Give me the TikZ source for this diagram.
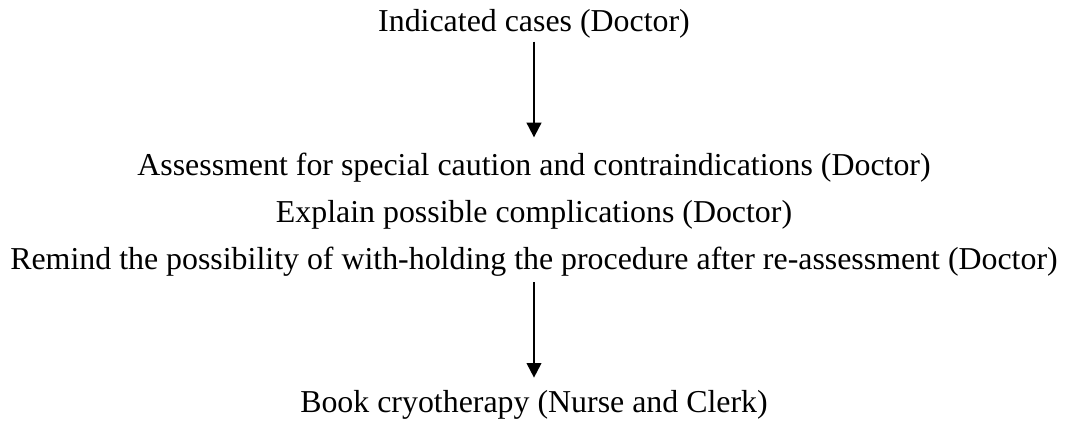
\documentclass[tikz,border=0pt]{standalone}
\usepackage{fontspec}
\setmainfont{Liberation Serif}
\usetikzlibrary{arrows.meta, positioning}

\tikzset{
  steptext/.style={anchor=base, inner sep=0pt},
  flowarrow/.style={-{Triangle[width=11pt,length=11pt]}, line width=1.5pt}
}

\begin{document}
\begin{tikzpicture}[x=0.02646cm, y=-0.02646cm, font=\fontsize{24}{28}\selectfont, align=center]
\useasboundingbox (0,0) rectangle (1067,423);
\node (cases) [steptext] at (534,32) {Indicated cases (Doctor)};
\node (assess) [steptext] at (534,176) {Assessment for special caution and contraindications (Doctor)};
\node (explain) [steptext] at (534,223) {Explain possible complications (Doctor)};
\node (remind) [steptext] at (534,270) {Remind the possibility of with-holding the procedure after re-assessment (Doctor)};
\node (book) [steptext] at (534,412) {Book cryotherapy (Nurse and Clerk)};

\draw[flowarrow, shorten <=2pt, shorten >=12pt] (cases) -- (assess);
\draw[flowarrow, shorten <=4pt, shorten >=9pt] (remind) -- (book);
\end{tikzpicture}
\end{document}
